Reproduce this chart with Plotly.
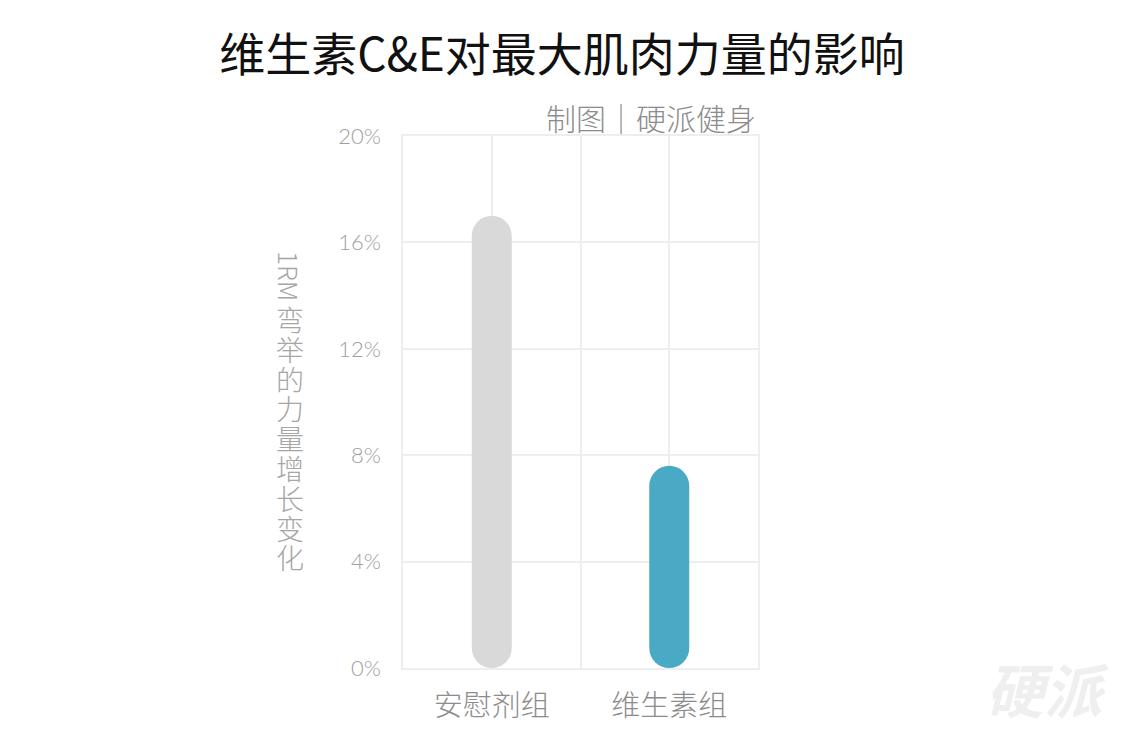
import plotly.graph_objects as go

categories = ["安慰剂组", "维生素组"]
values = [17.0, 7.6]  # percent
colors = ["#d9d9d9", "#4aa9c5"]
y_ticks = [0, 4, 8, 12, 16, 20]
y_tick_labels = ["0%", "4%", "8%", "12%", "16%", "20%"]
y_title_latin = "1RM"
y_title_cjk = "弯举的力量增长变化"

# layout geometry (pixels)
W, H = 1124, 740
L, R, T, B = 403, 366, 136, 72
plot_w, plot_h = W - L - R, H - T - B
y_max = 20
bar_px = 40

xpos = list(range(len(categories)))
bar_w = bar_px / (plot_w / 2)  # bar width in x data units

fig = go.Figure()
# bar with explicit base: plotly rounds both ends
fig.add_trace(go.Bar(
    x=xpos, y=values, base=[0] * len(values), width=bar_w,
    marker=dict(color=colors, cornerradius=bar_px // 2, line=dict(width=0)),
    hoverinfo="skip", showlegend=False,
))

grid_col = "#eeeeee"
fig.update_layout(
    width=W, height=H,
    paper_bgcolor="white", plot_bgcolor="white",
    margin=dict(l=L, r=R, t=T, b=B),
    font=dict(family="Noto Sans CJK SC", color="#a6a6a6"),
    title=dict(
        text="维生素C&E对最大肌肉力量的影响",
        x=562 / W, xanchor="center", xref="container",
        y=1 - 55 / H, yanchor="middle", yref="container",
        font=dict(size=46, color="#111111", family="Noto Sans CJK SC"),
    ),
    xaxis=dict(
        range=[-0.5, 1.5],
        tickvals=[-0.5, 0, 0.5, 1, 1.5],
        ticktext=["", categories[0], "", categories[1], ""],
        showgrid=True, gridcolor=grid_col, gridwidth=1.5,
        zeroline=False, showline=True, linecolor=grid_col, linewidth=1.5, mirror=True,
        ticks="", ticklabelstandoff=11,
        tickfont=dict(size=29, color="#8c8c8c", weight=300),
        fixedrange=True,
    ),
    yaxis=dict(
        range=[0, y_max],
        tickvals=y_ticks, ticktext=y_tick_labels,
        showgrid=True, gridcolor=grid_col, gridwidth=1.5,
        zeroline=False, showline=True, linecolor=grid_col, linewidth=1.5, mirror=True,
        ticks="", ticklabelstandoff=16,
        tickfont=dict(size=22, color="#a0a0a0", family="Lato", weight=300),
        fixedrange=True,
    ),
)

# subtitle
fig.add_annotation(
    text="制图｜硬派健身", xref="paper", yref="paper", x=1.0, y=1.0,
    xanchor="right", yanchor="middle", yshift=19, showarrow=False,
    font=dict(size=30, color="#8c8c8c", weight=300),
)
# vertical y-axis title: Latin rotated, CJK upright
title_x_shift = 290 - L
fig.add_annotation(
    text=y_title_latin, xref="paper", yref="paper", x=0, y=1 - (276 - T) / plot_h,
    xshift=title_x_shift, xanchor="center", yanchor="middle", textangle=90,
    showarrow=False, font=dict(size=26, color="#a6a6a6", weight=300),
)
for i, ch in enumerate(y_title_cjk):
    yc = 319 + i * 29.8
    fig.add_annotation(
        text=ch, xref="paper", yref="paper", x=0, y=1 - (yc - T) / plot_h,
        xshift=title_x_shift, xanchor="center", yanchor="middle", showarrow=False,
        font=dict(size=28, color="#a6a6a6", weight=300),
    )
# watermark
fig.add_annotation(
    text="<b><i>硬派</i></b>", xref="paper", yref="paper", x=1, y=0,
    xshift=(1047 - (W - R)), yshift=-(688 - (H - B)), xanchor="center", yanchor="middle",
    showarrow=False, font=dict(size=58, color="#efefef"),
)

fig.write_html(
    "out.html",
    config={"displayModeBar": False},
    post_script="document.body.style.margin='0';document.body.style.padding='0';",
)
